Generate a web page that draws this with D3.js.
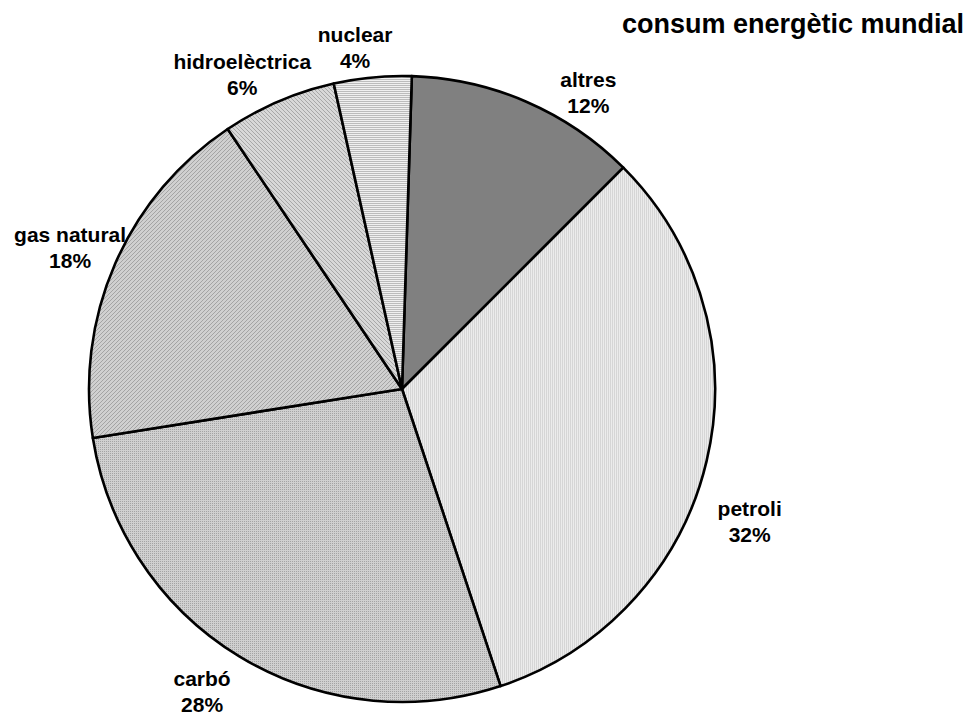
<!DOCTYPE html>
<html>
<head>
<meta charset="utf-8">
<script src="https://cdn.jsdelivr.net/npm/d3@7"></script>
<style>
  html, body { margin: 0; padding: 0; background: #ffffff; }
  svg { display: block; }
  text { font-family: "Liberation Sans", Arial, sans-serif; font-weight: bold; fill: #000; }
</style>
</head>
<body>
<svg id="chart" width="968" height="718"></svg>
<script>
// World energy consumption by source (share of total, %)
const categories = ["altres", "petroli", "carbó", "gas natural", "hidroelèctrica", "nuclear"];
const shares = [12.0, 32.4, 27.6, 18.1, 5.9, 4.0];
const title = "consum energètic mundial";

// Layout
const width = 968, height = 718;
const cx = 402, cy = 389, radius = 313;
const firstSliceAngle = 1.8; // degrees clockwise from 12 o'clock

// Label placement around the pie: [angle in degrees, distance from centre]
const labelPolar = [[32.8, 344], [112, 375], [212.8, 369], [292, 358], [332.5, 346], [352, 337]];

const svg = d3.select("#chart");
const defs = svg.append("defs");

// Fill patterns for each slice
function pattern(id, size, bg, draw) {
  const p = defs.append("pattern")
    .attr("id", id).attr("patternUnits", "userSpaceOnUse")
    .attr("width", size).attr("height", size);
  p.append("rect").attr("width", size).attr("height", size).attr("fill", bg);
  draw(p);
  return `url(#${id})`;
}

const fills = [
  "#808080",
  pattern("p-vert", 2, "#ececec", p => p.append("rect").attr("width", 1).attr("height", 2).attr("fill", "#d6d6d6")),
  pattern("p-grid", 2, "#d0d0d0", p => {
    p.append("rect").attr("width", 1).attr("height", 1).attr("fill", "#a4a4a4");
  }),
  pattern("p-diag", 4, "#d0d0d0", p => {
    p.append("path").attr("d", "M0,4 L4,0 M-1,1 L1,-1 M3,5 L5,3").attr("stroke", "#a4a4a4").attr("stroke-width", 1);
  }),
  pattern("p-diag2", 4, "#d8d8d8", p => {
    p.append("path").attr("d", "M0,0 L4,4 M-1,3 L1,5 M3,-1 L5,1").attr("stroke", "#a8a8a8").attr("stroke-width", 1);
  }),
  pattern("p-horiz", 2, "#f0f0f0", p => p.append("rect").attr("width", 2).attr("height", 1).attr("fill", "#bcbcbc"))
];

const data = categories.map((c, i) => ({ name: c, value: shares[i], fill: fills[i], label: labelPolar[i] }));
const total = d3.sum(shares);
const pct = d3.format(".0%");

const start = firstSliceAngle * Math.PI / 180;
const pie = d3.pie().value(d => d.value).sort(null)
  .startAngle(start).endAngle(start + 2 * Math.PI);
const arc = d3.arc().innerRadius(0).outerRadius(radius);

const g = svg.append("g").attr("transform", `translate(${cx},${cy})`);

g.selectAll("path.slice")
  .data(pie(data))
  .join("path")
  .attr("class", "slice")
  .attr("d", arc)
  .attr("fill", d => d.data.fill)
  .attr("stroke", "#000")
  .attr("stroke-width", 2.6)
  .attr("stroke-linejoin", "round");

// Category and percentage labels
const labels = g.selectAll("g.label")
  .data(pie(data))
  .join("g")
  .attr("class", "label")
  .attr("transform", d => {
    const a = d.data.label[0] * Math.PI / 180, r = d.data.label[1];
    return `translate(${r * Math.sin(a)},${-r * Math.cos(a)})`;
  });

labels.append("text")
  .attr("text-anchor", "middle")
  .attr("y", -13)
  .attr("font-size", 21)
  .text(d => d.data.name);

labels.append("text")
  .attr("text-anchor", "middle")
  .attr("y", 13)
  .attr("font-size", 21)
  .text(d => pct(d.data.value / total));

// Chart title
svg.append("text")
  .attr("x", 793)
  .attr("y", 33)
  .attr("text-anchor", "middle")
  .attr("font-size", 27)
  .text(title);
</script>
</body>
</html>
